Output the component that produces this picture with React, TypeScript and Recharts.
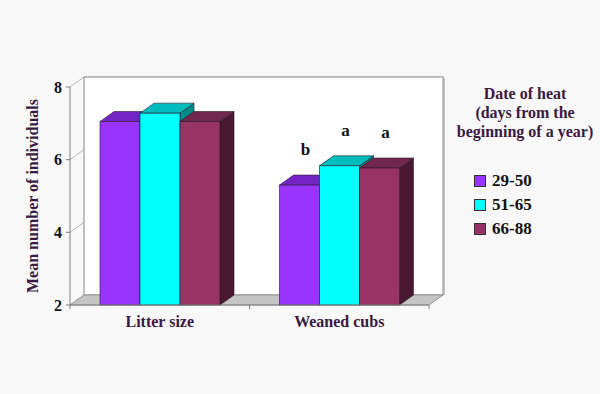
import {
  Bar,
  BarChart,
  CartesianGrid,
  LabelList,
  ReferenceArea,
  XAxis,
  YAxis,
} from "recharts";

const categories = ["Litter size", "Weaned cubs"];
const early = [7.05, 5.3];
const mid = [7.28, 5.83];
const late = [7.05, 5.77];
const earlyMarks = ["", "b"];
const midMarks = ["", "a"];
const lateMarks = ["", "a"];
const yTicks = [2, 4, 6, 8];

const series = [
  { key: "early", mark: "earlyMark", name: "29-50", front: "#9933ff", top: "#7424c4", side: "#4f1a86" },
  { key: "mid", mark: "midMark", name: "51-65", front: "#00ffff", top: "#00bdbd", side: "#008a8a" },
  { key: "late", mark: "lateMark", name: "66-88", front: "#993366", top: "#72284c", side: "#4a1830" },
];

const data = categories.map((c, i) => ({
  cat: c,
  early: early[i],
  mid: mid[i],
  late: late[i],
  earlyMark: earlyMarks[i],
  midMark: midMarks[i],
  lateMark: lateMarks[i],
}));

// depth of the fake 3d
const DX = 14;
const DY = -10;
const FONT = '"Liberation Serif", "Times New Roman", serif';
const INK = "#3a1a40";
const EDGE = "#2a1a2a";

function box3d(front: string, top: string, side: string) {
  return (p: any) => {
    const { x, y, width: w, height: h } = p;
    if (w == null || h == null) return <g />;
    return (
      <g>
        <polygon
          points={`${x + w},${y} ${x + w + DX},${y + DY} ${x + w + DX},${y + h + DY} ${x + w},${y + h}`}
          fill={side}
          stroke={EDGE}
          strokeWidth={0.6}
        />
        <polygon
          points={`${x},${y} ${x + DX},${y + DY} ${x + w + DX},${y + DY} ${x + w},${y}`}
          fill={top}
          stroke={EDGE}
          strokeWidth={0.6}
        />
        <rect x={x} y={y} width={w} height={h} fill={front} stroke={EDGE} strokeWidth={0.6} />
      </g>
    );
  };
}

function Walls(p: any) {
  const { x, y, width: w, height: h } = p;
  const b = y + h;
  return (
    <g>
      <rect x={x + DX} y={y + DY} width={w} height={h} fill="#ffffff" stroke="#9a9a9a" strokeWidth={1.2} />
      <line x1={x + w + DX + 1} y1={y + DY + 1} x2={x + w + DX + 1} y2={b + DY} stroke="#b0b0b0" strokeWidth={1.5} />
      <polygon
        points={`${x},${b} ${x + DX},${b + DY} ${x + w + DX},${b + DY} ${x + w},${b}`}
        fill="#c4c4c4"
        stroke="#8a8a8a"
        strokeWidth={0.8}
      />
      {[x, x + w / 2, x + w].map((tx, i) => (
        <line key={i} x1={tx} y1={b} x2={tx} y2={b + 4} stroke="#808080" />
      ))}
    </g>
  );
}

function gridLine(p: any) {
  const { x1, y1, x2, y2 } = p;
  return (
    <g key={p.key}>
      <line x1={x1} y1={y1} x2={x1 + DX} y2={y1 + DY} stroke="#b8b8b8" />
      <line x1={x1 + DX} y1={y1 + DY} x2={x2 + DX} y2={y2 + DY} stroke="#d4d4d4" />
    </g>
  );
}

function markLabel(p: any) {
  const { x, y, width, value } = p;
  if (!value) return null;
  return (
    <text
      x={x + width / 2 + 6}
      y={y - 30}
      textAnchor="middle"
      fontFamily={FONT}
      fontWeight="bold"
      fontSize={17}
      fill="#111"
    >
      {value}
    </text>
  );
}

export default function App() {
  return (
    <div
      style={{
        position: "fixed",
        left: 0,
        top: 0,
        width: 600,
        height: 394,
        background: "#f8f8f8",
      }}
    >
      <BarChart
        width={600}
        height={394}
        data={data}
        margin={{ top: 87, right: 171, left: 0, bottom: 59 }}
        barCategoryGap={30}
        barGap={0}
      >
        <ReferenceArea y1={2} y2={8} shape={Walls} fillOpacity={1} />
        <CartesianGrid vertical={false} horizontal={gridLine} />
        <XAxis
          dataKey="cat"
          height={30}
          axisLine={{ stroke: "#808080" }}
          tickLine={false}
          tickMargin={5}
          tick={{ fontFamily: FONT, fontWeight: "bold", fontSize: 16, fill: INK }}
        />
        <YAxis
          width={70}
          domain={[2, 8]}
          ticks={yTicks}
          axisLine={{ stroke: "#808080" }}
          tickLine={{ stroke: "#808080" }}
          tickSize={4}
          tickMargin={4}
          tick={{ fontFamily: FONT, fontWeight: "bold", fontSize: 16, fill: "#111" }}
          label={{
            value: "Mean number of individuals",
            angle: -90,
            position: "center",
            dx: -3,
            style: { fontFamily: FONT, fontWeight: "bold", fontSize: 16, fill: INK },
          }}
        />
        {series.map((s) => (
          <Bar
            key={s.key}
            dataKey={s.key}
            name={s.name}
            fill={s.front}
            shape={box3d(s.front, s.top, s.side)}
            isAnimationActive={false}
          >
            <LabelList dataKey={s.mark} content={markLabel} />
          </Bar>
        ))}
      </BarChart>
      <div
        style={{
          position: "absolute",
          left: 440,
          top: 84,
          width: 160,
          fontFamily: FONT,
          fontWeight: "bold",
          color: INK,
        }}
      >
        <div style={{ textAlign: "center", fontSize: 16, lineHeight: "19px", paddingLeft: 10 }}>
          Date of heat
          <br />
          (days from the
          <br />
          beginning of a year)
        </div>
        <div style={{ marginTop: 28, marginLeft: 34 }}>
          {series.map((s) => (
            <div
              key={s.key}
              style={{ display: "flex", alignItems: "center", height: 24, color: "#111", fontSize: 17 }}
            >
              <span
                style={{
                  width: 10,
                  height: 10,
                  background: s.front,
                  border: "1px solid #333",
                  marginRight: 6,
                }}
              />
              {s.name}
            </div>
          ))}
        </div>
      </div>
    </div>
  );
}
